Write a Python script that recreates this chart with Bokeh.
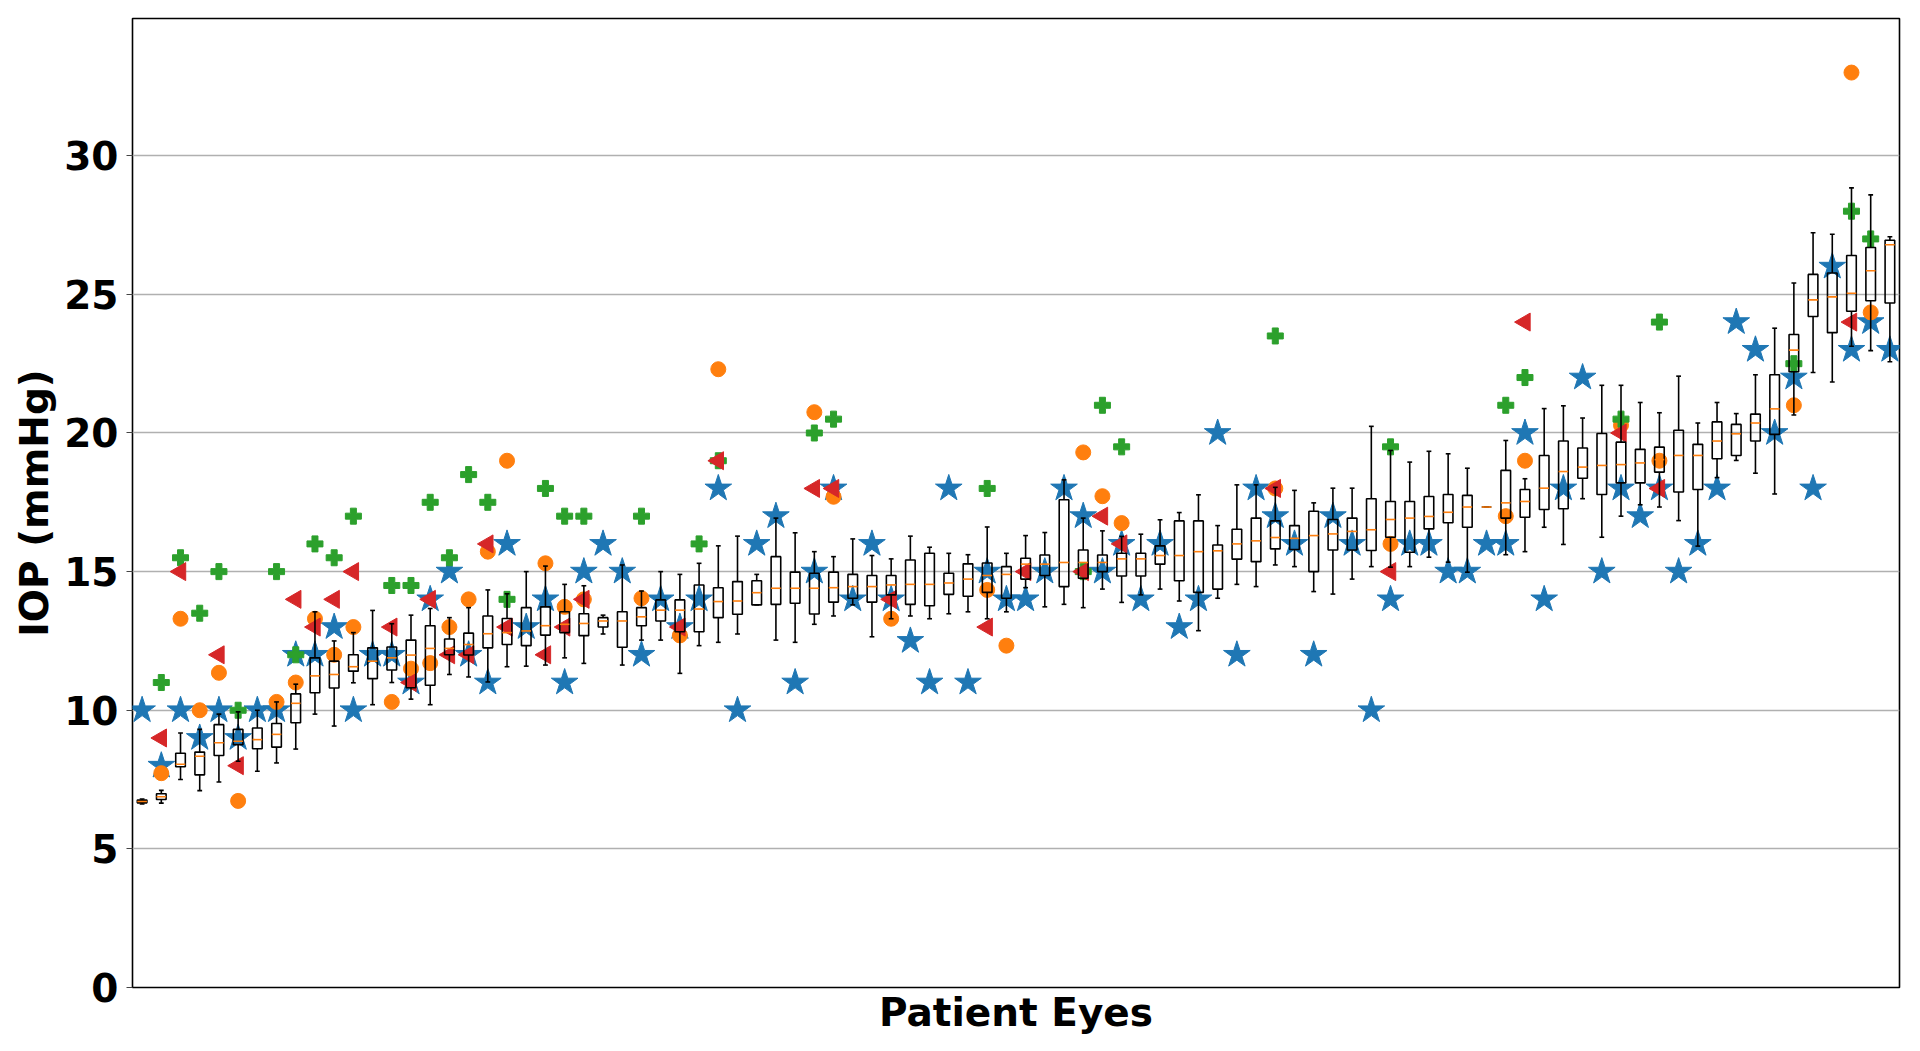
import numpy as np
from bokeh.plotting import figure
from bokeh.models import Range1d, FixedTicker
from bokeh.embed import file_html
from bokeh.resources import INLINE

# ---------------- data ----------------
eyes = list(range(1, 93))

whisker_low = [6.62, 6.65, 7.50, 7.10, 7.41, 8.16, 7.80, 8.10, 8.60, 9.86,
               9.43, 10.99, 10.20, 11.00, 10.40, 10.20, 11.29, 11.20, 11.02, 11.57,
               11.59, 11.63, 11.89, 11.69, 12.75, 11.63, 12.53, 12.53, 11.33, 12.33,
               12.45, 12.75, 13.80, 12.53, 12.45, 13.10, 13.40, 13.80, 12.65, 13.30,
               13.40, 13.30, 13.48, 13.55, 13.30, 13.55, 14.42, 13.73, 13.82, 13.70,
               14.37, 13.89, 14.16, 14.37, 13.94, 12.87, 14.04, 14.54, 14.46, 15.24,
               15.18, 14.28, 14.19, 14.73, 15.18, 15.16, 15.18, 15.52, 15.34, 14.98,
               17.33, 15.61, 15.72, 16.60, 15.98, 17.63, 16.24, 17.00, 17.41, 17.33,
               16.84, 15.92, 18.39, 19.01, 18.55, 17.80, 20.65, 22.18, 21.84, 23.13,
               22.97, 22.57]
q1 = [6.66, 6.78, 7.96, 7.67, 8.37, 8.76, 8.61, 8.67, 9.55, 10.63,
      10.80, 11.41, 11.14, 11.45, 10.81, 10.90, 12.00, 11.99, 12.25, 12.37,
      12.33, 12.71, 12.80, 12.69, 13.00, 12.27, 13.05, 13.22, 12.83, 12.83,
      13.34, 13.46, 13.80, 13.82, 13.86, 13.47, 13.90, 14.04, 13.90, 14.16,
      13.82, 13.77, 14.18, 14.11, 14.25, 14.04, 14.73, 14.86, 14.46, 14.76,
      15.00, 14.84, 14.84, 15.27, 14.67, 14.25, 14.37, 15.45, 15.36, 15.82,
      15.80, 15.00, 15.78, 15.78, 15.76, 16.24, 15.70, 16.54, 16.76, 16.60,
      17.33, 16.93, 16.96, 17.24, 17.27, 18.37, 17.78, 18.20, 18.20, 18.59,
      17.87, 17.96, 19.07, 19.19, 19.71, 19.95, 22.21, 24.20, 23.62, 24.39,
      24.77, 24.69]
median = [6.71, 6.88, 8.05, 8.34, 8.83, 8.88, 8.94, 9.13, 10.25, 11.24,
          11.29, 11.57, 11.77, 11.89, 11.99, 12.23, 12.23, 12.37, 12.76, 12.80,
          12.86, 13.05, 13.10, 13.13, 13.22, 13.22, 13.37, 13.61, 13.61, 13.65,
          13.92, 13.94, 14.24, 14.40, 14.40, 14.40, 14.42, 14.46, 14.46, 14.52,
          14.54, 14.54, 14.59, 14.73, 14.86, 14.90, 15.27, 15.27, 15.33, 15.33,
          15.33, 15.46, 15.46, 15.58, 15.58, 15.72, 15.75, 16.00, 16.11, 16.23,
          16.20, 16.30, 16.36, 16.45, 16.51, 16.88, 16.93, 16.99, 17.14, 17.33,
          17.33, 17.48, 17.53, 18.01, 18.61, 18.77, 18.83, 18.86, 18.92, 19.04,
          19.19, 19.19, 19.71, 19.97, 20.36, 20.87, 22.99, 24.80, 24.91, 25.04,
          25.85, 26.79]
q3 = [6.76, 6.99, 8.45, 8.49, 9.48, 9.31, 9.36, 9.52, 10.59, 11.89,
      11.77, 12.00, 12.25, 12.28, 12.53, 13.05, 12.57, 12.78, 13.40, 13.31,
      13.70, 13.73, 13.55, 13.48, 13.34, 13.55, 13.70, 13.98, 13.98, 14.52,
      14.42, 14.64, 14.67, 15.54, 14.98, 14.94, 14.98, 14.90, 14.86, 14.86,
      15.42, 15.66, 14.94, 15.28, 15.31, 15.18, 15.48, 15.60, 17.59, 15.78,
      15.60, 15.66, 15.66, 15.93, 16.83, 16.83, 15.96, 16.53, 16.93, 16.83,
      16.66, 17.18, 16.88, 16.93, 17.63, 17.53, 17.53, 17.71, 17.78, 17.75,
      17.33, 18.65, 17.96, 19.19, 19.71, 19.46, 19.98, 19.67, 19.41, 19.49,
      20.10, 19.59, 20.40, 20.31, 20.68, 22.10, 23.55, 25.72, 25.77, 26.40,
      26.69, 26.95]
whisker_high = [6.80, 7.11, 9.18, 9.31, 9.86, 9.94, 10.00, 10.30, 10.94, 13.55,
                12.50, 12.80, 13.60, 13.12, 13.43, 13.67, 13.34, 13.70, 14.34, 14.20,
                15.00, 15.20, 14.54, 14.49, 13.43, 15.24, 14.30, 15.00, 14.90, 15.30,
                15.93, 16.28, 14.90, 16.93, 16.40, 15.72, 15.54, 16.18, 15.58, 15.46,
                16.28, 15.88, 15.66, 15.61, 16.61, 15.66, 16.30, 16.41, 18.31, 16.93,
                16.47, 16.27, 16.35, 16.87, 17.13, 17.77, 16.66, 18.13, 18.13, 18.04,
                17.93, 17.48, 18.01, 18.01, 20.24, 19.37, 18.95, 19.34, 19.25, 18.73,
                17.33, 19.73, 18.35, 20.88, 20.98, 20.54, 21.72, 21.72, 21.10, 20.73,
                22.05, 20.36, 21.10, 20.70, 22.10, 23.78, 25.41, 27.22, 27.17, 28.84,
                28.59, 27.08]

star_iop = [10, 8, 10, 9, 10, 9, 10, 10, 12, 12,
            13, 10, 12, 12, 11, 14, 15, 12, 11, 16,
            13, 14, 11, 15, 16, 15, 12, 14, 13, 14,
            18, 10, 16, 17, 11, 15, 18, 14, 16, 14,
            12.5, 11, 18, 11, 15, 14, 14, 15, 18, 17,
            15, 16, 14, 16, 13, 14, 20, 12, 18, 17,
            16, 12, 17, 16, 10, 14, 16, 16, 15, 15,
            16, 16, 20, 14, 18, 22, 15, 18, 17, 18,
            15, 16, 18, 24, 23, 20, 22, 18, 26, 23,
            24, 23]
N = None
circle_iop = [N, 7.73, 13.3, 10.0, 11.35, 6.73, N, 10.3, 11.0, 13.3,
              12.0, 13.0, N, 10.3, 11.5, 11.7, 13.0, 14.0, 15.72, 19.0,
              N, 15.3, 13.73, 14.0, N, N, 14.04, N, 12.7, N,
              22.3, N, N, N, N, 20.75, 17.7, N, N, 13.3,
              N, N, N, N, 14.34, 12.33, N, N, N, 19.3,
              17.72, 16.75, N, N, N, N, N, N, N, 18.0,
              N, N, N, N, N, 16.0, N, N, N, N,
              N, 17.0, 19.0, N, N, N, N, 20.28, N, 19.0,
              N, N, N, N, N, N, 21.0, N, N, 33.0,
              24.35, N]
triangle_iop = [N, 9.0, 15.0, N, 12.0, 8.0, N, N, 14.0, 13.0,
                14.0, 15.0, N, 13.0, 11.0, 14.0, 12.0, 12.0, 16.0, 13.0,
                N, 12.0, 13.0, 14.0, N, N, N, N, 13.0, N,
                19.0, N, N, N, N, 18.0, 18.0, N, N, 14.0,
                N, N, N, N, 13.0, N, 15.0, N, N, 15.0,
                17.0, 16.0, N, N, N, N, N, N, N, 18.0,
                N, N, N, N, N, 15.0, N, N, N, N,
                N, N, 24.0, N, N, N, N, 20.0, N, 18.0,
                N, N, N, N, N, N, N, N, N, 24.0,
                N, N]
plus_iop = [N, 11.0, 15.5, 13.5, 15.0, 10.0, N, 15.0, 12.0, 16.0,
            15.5, 17.0, N, 14.5, 14.5, 17.5, 15.5, 18.5, 17.5, 14.0,
            N, 18.0, 17.0, 17.0, N, N, 17.0, N, N, 16.0,
            19.0, N, N, N, N, 20.0, 20.5, N, N, N,
            N, N, N, N, 18.0, N, N, N, N, 15.0,
            21.0, 19.5, N, N, N, N, N, N, N, 23.5,
            N, N, N, N, N, 19.5, N, N, N, N,
            N, 21.0, 22.0, N, N, N, N, 20.5, N, 24.0,
            N, N, N, N, N, N, 22.5, N, N, 28.0,
            27.0, N]

y_ticks = [0, 5, 10, 15, 20, 25, 30]

# ---------------- figure ----------------
p = figure(width=1912, height=1043, output_backend="svg", toolbar_location=None,
           x_range=Range1d(0.5, 92.5), y_range=Range1d(0, 34.95),
           min_border_left=132, min_border_right=13, min_border_top=18,
           min_border_bottom=56)
p.background_fill_color = "white"
p.border_fill_color = "white"
p.outline_line_color = "black"
p.outline_line_width = 1.6

p.xgrid.visible = False
p.ygrid.grid_line_color = "#b0b0b0"
p.ygrid.grid_line_width = 1.4
p.yaxis.ticker = FixedTicker(ticks=y_ticks)
p.xaxis.ticker = FixedTicker(ticks=[])
p.yaxis.minor_tick_line_color = None
p.xaxis.minor_tick_line_color = None
p.xaxis.major_tick_line_color = None
p.xaxis.major_tick_out = 0
p.xaxis.axis_line_color = None
p.yaxis.axis_line_color = None
p.yaxis.major_tick_in = 0
p.yaxis.major_tick_out = 6
p.yaxis.major_tick_line_color = "#444444"
p.yaxis.major_tick_line_width = 1
p.yaxis.major_label_standoff = 8
p.yaxis.major_label_text_font = "DejaVu Sans"
p.yaxis.major_label_text_font_style = "bold"
p.yaxis.major_label_text_font_size = "39px"
p.yaxis.major_label_text_color = "black"

for ax, label in ((p.xaxis, "Patient Eyes"), (p.yaxis, "IOP (mmHg)")):
    ax.axis_label = label
    ax.axis_label_text_font = "DejaVu Sans"
    ax.axis_label_text_font_style = "bold"
    ax.axis_label_text_font_size = "39px"
    ax.axis_label_text_color = "black"
p.yaxis.axis_label_standoff = 4
p.xaxis.axis_label_standoff = 2


def pick(vals):
    xs = [e for e, v in zip(eyes, vals) if v is not None]
    ys = [v for v in vals if v is not None]
    return xs, ys

xs, ys = pick(star_iop)
p.scatter(xs, ys, marker="star", size=28, fill_color="#1f77b4", line_color="#1f77b4")
xs, ys = pick(circle_iop)
p.scatter(xs, ys, marker="circle", size=15, fill_color="#ff7f0e", line_color="#ff7f0e")
xs, ys = pick(plus_iop)
p.scatter(xs, ys, marker="plus", size=16, fill_color="#2ca02c", line_color="#2ca02c")
xs, ys = pick(triangle_iop)
p.scatter(xs, ys, marker="triangle", size=18, angle=np.pi / 2,
          fill_color="#d62728", line_color="#d62728")

x = np.array(eyes, dtype=float)
half_box = 0.25
half_cap = 0.125
p.segment(x, np.array(q3), x, np.array(whisker_high), line_color="black", line_width=1.6)
p.segment(x, np.array(q1), x, np.array(whisker_low), line_color="black", line_width=1.6)
p.segment(x - half_cap, np.array(whisker_high), x + half_cap, np.array(whisker_high),
          line_color="black", line_width=1.6)
p.segment(x - half_cap, np.array(whisker_low), x + half_cap, np.array(whisker_low),
          line_color="black", line_width=1.6)
p.quad(left=x - half_box, right=x + half_box, bottom=np.array(q1), top=np.array(q3),
       fill_alpha=0, line_color="black", line_width=1.6)
p.segment(x - half_box, np.array(median), x + half_box, np.array(median),
          line_color="#ff7f0e", line_width=1.6)

open("out.html", "w").write(file_html(p, INLINE))
